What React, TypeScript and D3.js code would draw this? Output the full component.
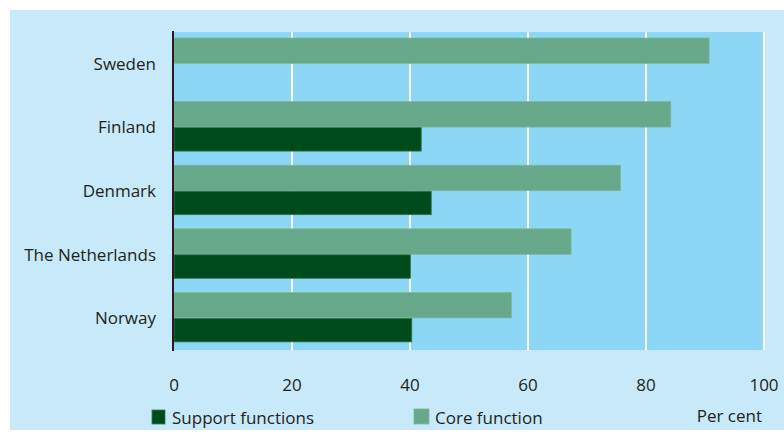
import React from "react";
import * as d3 from "d3";

const countries = ["Sweden", "Finland", "Denmark", "The Netherlands", "Norway"];
const coreValues = [90.7, 84.2, 75.7, 67.3, 57.2];
const supportValues = [0, 41.9, 43.6, 40.1, 40.3];
const xTicks = [0, 20, 40, 60, 80, 100];
const seriesNames = ["Support functions", "Core function"];
const unitLabel = "Per cent";

const FONT = "'Open Sans', 'Liberation Sans', sans-serif";
const TEXT = "#231F20";
const CORE = "#67A88A";
const SUPPORT = "#004B1C";
const FS = 17;

export default function App() {
  const x = d3.scaleLinear().domain([0, 100]).range([174, 764]);
  const y = d3.scaleBand().domain(countries).range([32, 350]).paddingInner(0).paddingOuter(0);
  const bw = y.bandwidth();
  const barH = 25.5;
  const top = 6;
  return (
    <svg width={784} height={434} style={{ position: "absolute", left: 0, top: 0 }}>
      <rect x={10} y={10} width={774} height={420} fill="#C7E9F9" />
      <rect x={174} y={32} width={590} height={318} fill="#8DD7F6" />
      {xTicks.slice(1).map((t) => (
        <line key={t} x1={x(t)} x2={x(t)} y1={32} y2={350} stroke="#FFFFFF" strokeWidth={2} />
      ))}
      {countries.map((c, i) => {
        const y0 = (y(c) as number) + top;
        return (
          <g key={c}>
            <rect x={x(0)} y={y0} width={x(coreValues[i]) - x(0)} height={barH} fill={CORE} stroke="#7DB89C" strokeWidth={0.8} />
            {supportValues[i] > 0 && (
              <rect x={x(0)} y={y0 + barH + 0.5} width={x(supportValues[i]) - x(0)} height={barH - 2} fill={SUPPORT} stroke="#2E7A50" strokeWidth={0.8} />
            )}
            <text x={156} y={(y(c) as number) + bw / 2 + 6} textAnchor="end" fontFamily={FONT} fontSize={FS} fill={TEXT}>
              {c}
            </text>
          </g>
        );
      })}
      <line x1={173} x2={173} y1={31} y2={351} stroke={TEXT} strokeWidth={2} />
      {xTicks.map((t) => (
        <text key={t} x={x(t)} y={391} textAnchor="middle" fontFamily={FONT} fontSize={FS} fill={TEXT}>
          {t}
        </text>
      ))}
      <rect x={152} y={410} width={13} height={14} fill={SUPPORT} stroke="#2E7A50" strokeWidth={0.8} />
      <text x={172} y={424} fontFamily={FONT} fontSize={FS} fill={TEXT}>{seriesNames[0]}</text>
      <rect x={414} y={409} width={15} height={15} fill={CORE} stroke="#7DB89C" strokeWidth={0.8} />
      <text x={435} y={424} fontFamily={FONT} fontSize={FS} fill={TEXT}>{seriesNames[1]}</text>
      <text x={762} y={422} textAnchor="end" fontFamily={FONT} fontSize={FS} fill={TEXT}>{unitLabel}</text>
    </svg>
  );
}
